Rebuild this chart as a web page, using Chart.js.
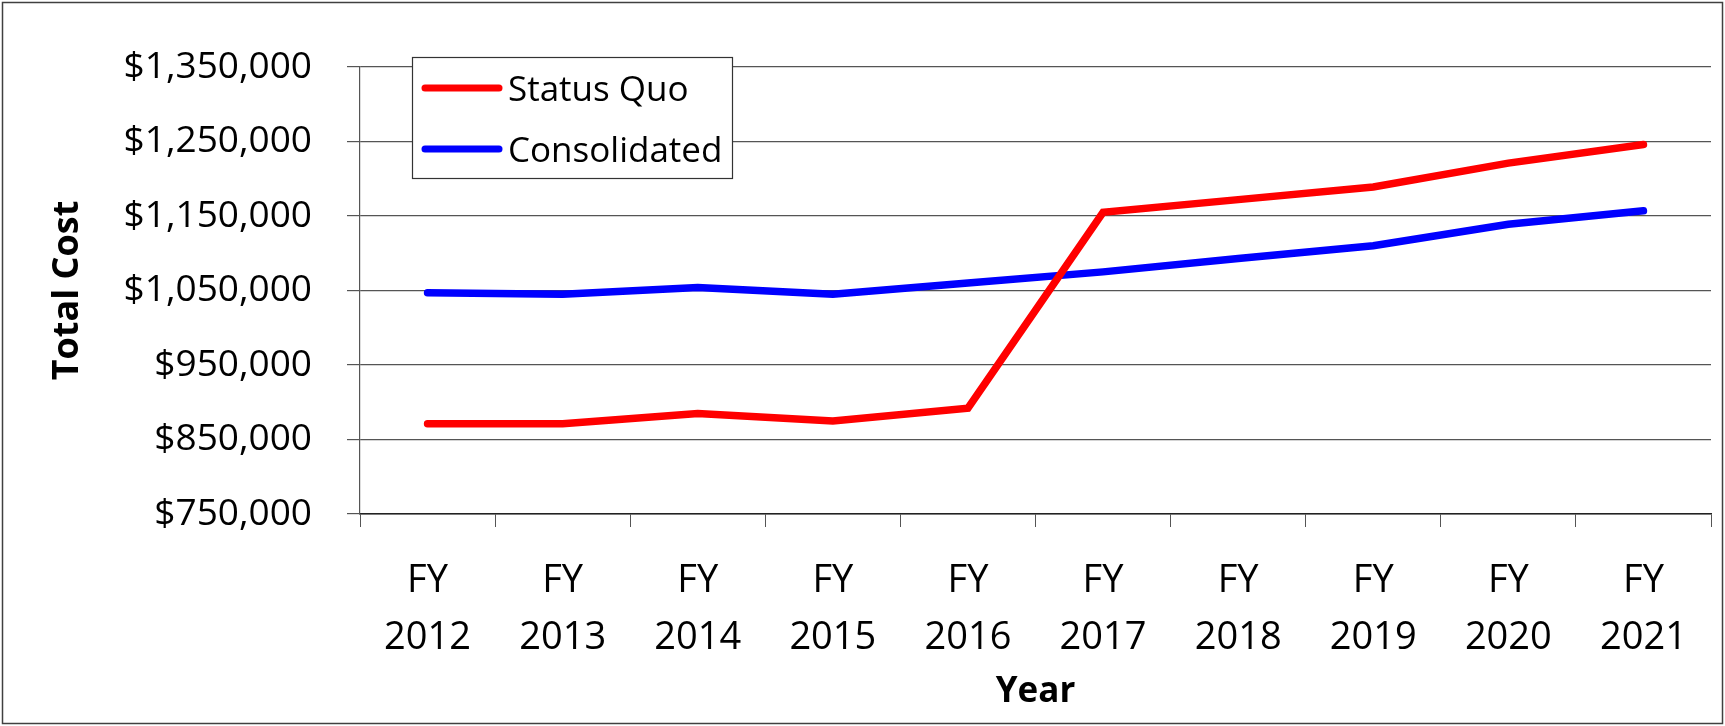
<!DOCTYPE html>
<html>
<head>
<meta charset="utf-8">
<script src="https://cdn.jsdelivr.net/npm/chart.js@4"></script>
<style>
  body { margin: 0; background: #fff; }
  #wrap { width: 1725px; height: 726px; }
</style>
</head>
<body>
<div id="wrap"><canvas id="lineChart"></canvas></div>
<script>
const years = ["2012", "2013", "2014", "2015", "2016", "2017", "2018", "2019", "2020", "2021"];
const statusQuo = [871000, 871000, 885000, 875000, 892000, 1155000, 1172000, 1189000, 1221000, 1246000];
const consolidated = [1047000, 1045000, 1054000, 1045000, 1060000, 1075000, 1093000, 1110000, 1139000, 1157000];
const yTicks = [750000, 850000, 950000, 1050000, 1150000, 1250000, 1350000];

Chart.defaults.font.family = "'Open Sans', sans-serif";
Chart.defaults.color = "#000";

// legend box + outer frame, drawn by hand so it can sit inside the plot
const extras = {
  id: "extras",
  beforeDraw(chart) {
    let ctx = chart.ctx;
    ctx.save();
    ctx.fillStyle = "#fff";
    ctx.fillRect(0, 0, chart.width, chart.height);
    ctx.restore();
  },
  afterDraw(chart) {
    let ctx = chart.ctx;
    ctx.save();
    ctx.strokeStyle = "#404040";
    ctx.lineWidth = 1.5;
    ctx.strokeRect(2.5, 2.5, chart.width - 5, chart.height - 5);

    let bx = 412, by = 57, bw = 320, bh = 121;
    ctx.fillStyle = "#fff";
    ctx.fillRect(bx, by, bw, bh);
    ctx.strokeStyle = "#333";
    ctx.lineWidth = 1.2;
    ctx.strokeRect(bx + 0.5, by + 0.5, bw, bh);

    chart.data.datasets.forEach((ds, i) => {
      let y = 88 + i * 61;
      ctx.strokeStyle = ds.borderColor;
      ctx.lineWidth = 7;
      ctx.lineCap = "round";
      ctx.beginPath();
      ctx.moveTo(425, y);
      ctx.lineTo(499, y);
      ctx.stroke();
      ctx.fillStyle = "#000";
      ctx.font = "35px 'Open Sans'";
      ctx.textBaseline = "middle";
      ctx.fillText(ds.label, 508, y + 3);
    });
    ctx.restore();
  },
};

let ctx = document.getElementById("lineChart").getContext("2d");
let chart = new Chart(ctx, {
  type: "line",
  data: {
    labels: years.map((y) => ["FY", y]),
    datasets: [
      {
        label: "Status Quo",
        data: statusQuo,
        borderColor: "#ff0000",
        borderWidth: 7.5,
        borderCapStyle: "round",
        pointRadius: 0,
        fill: false,
      },
      {
        label: "Consolidated",
        data: consolidated,
        borderColor: "#0000ff",
        borderWidth: 7.5,
        borderCapStyle: "round",
        pointRadius: 0,
        fill: false,
      },
    ],
  },
  options: {
    responsive: true,
    maintainAspectRatio: false,
    animation: false,
    layout: { padding: { top: 67, right: 14, bottom: 0, left: 0 } },
    plugins: {
      legend: { display: false },
      tooltip: { enabled: false },
    },
    scales: {
      x: {
        offset: true,
        grid: { offset: true, drawOnChartArea: false, tickLength: 13, color: "#555" },
        border: { color: "#222", width: 1.5 },
        ticks: {
          maxRotation: 0,
          padding: 26,
          font: { size: 38, lineHeight: 1.5 },
        },
        title: {
          display: true,
          text: "Year",
          font: { size: 35, weight: "bold" },
          padding: { top: 0, bottom: 13 },
        },
        afterFit(scale) {
          scale.height = 212;
          scale.paddingLeft = 0;
          scale.paddingRight = 0;
        },
      },
      y: {
        min: 750000,
        max: 1350000,
        afterBuildTicks(scale) {
          scale.ticks = yTicks.map((v) => ({ value: v }));
        },
        grid: { tickLength: 13, color: "#555", lineWidth: 1.2 },
        border: { color: "#555", width: 1.2 },
        ticks: {
          padding: 35,
          font: { size: 37 },
          callback: (v) => "$" + v.toLocaleString("en-US"),
        },
        title: {
          display: true,
          text: "Total Cost",
          font: { size: 36, weight: "bold" },
          padding: { top: 46, bottom: 0 },
        },
        afterFit(scale) {
          scale.width = 360;
          scale.paddingTop = 0;
          scale.paddingBottom = 0;
        },
      },
    },
  },
  plugins: [extras],
});
</script>
</body>
</html>
